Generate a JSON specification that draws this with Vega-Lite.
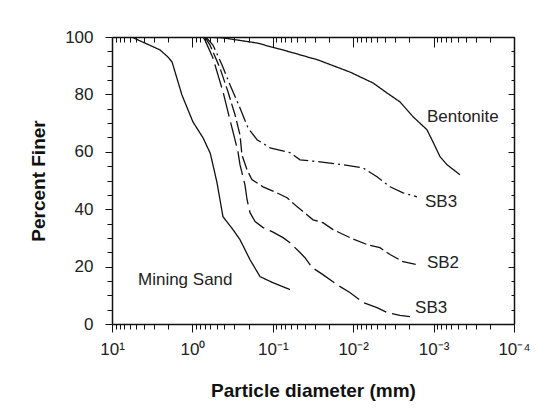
{
  "$schema": "https://vega.github.io/schema/vega-lite/v6.json",
  "width": 402,
  "height": 287,
  "autosize": "none",
  "padding": {"left": 112, "top": 37, "right": 26, "bottom": 90},
  "background": "white",
  "config": {
    "view": {"stroke": null},
    "font": "Liberation Sans",
    "axis": {
      "domainColor": "#111",
      "domainWidth": 1.5,
      "tickColor": "#111",
      "tickWidth": 1,
      "grid": false,
      "labelFont": "Liberation Sans",
      "labelFontSize": 17,
      "labelColor": "#222",
      "titleFont": "Liberation Sans",
      "titleFontWeight": "bold",
      "titleFontSize": 19,
      "titleColor": "#111",
      "labelOverlap": false,
      "labelBound": false,
      "labelFlush": false
    }
  },
  "datasets": {
    "curves": [
      {"series": "Mining Sand", "d": 5.5, "pct": 99.8},
      {"series": "Mining Sand", "d": 2.53, "pct": 95.5},
      {"series": "Mining Sand", "d": 2.01, "pct": 93},
      {"series": "Mining Sand", "d": 1.79, "pct": 91.3},
      {"series": "Mining Sand", "d": 1.35, "pct": 79.8},
      {"series": "Mining Sand", "d": 0.984, "pct": 70.4},
      {"series": "Mining Sand", "d": 0.738, "pct": 64.9},
      {"series": "Mining Sand", "d": 0.6, "pct": 59.5},
      {"series": "Mining Sand", "d": 0.53, "pct": 53},
      {"series": "Mining Sand", "d": 0.494, "pct": 49.2},
      {"series": "Mining Sand", "d": 0.417, "pct": 37.4},
      {"series": "Mining Sand", "d": 0.313, "pct": 32.9},
      {"series": "Mining Sand", "d": 0.256, "pct": 29.4},
      {"series": "Mining Sand", "d": 0.192, "pct": 22.4},
      {"series": "Mining Sand", "d": 0.144, "pct": 16.5},
      {"series": "Mining Sand", "d": 0.1, "pct": 14.4},
      {"series": "Mining Sand", "d": 0.0611, "pct": 12},

      {"series": "Bentonite", "d": 0.697, "pct": 100},
      {"series": "Bentonite", "d": 0.416, "pct": 99.7},
      {"series": "Bentonite", "d": 0.157, "pct": 97.9},
      {"series": "Bentonite", "d": 0.0611, "pct": 94.8},
      {"series": "Bentonite", "d": 0.0274, "pct": 92},
      {"series": "Bentonite", "d": 0.011, "pct": 87.8},
      {"series": "Bentonite", "d": 0.00568, "pct": 84},
      {"series": "Bentonite", "d": 0.0038, "pct": 80.5},
      {"series": "Bentonite", "d": 0.00262, "pct": 77.4},
      {"series": "Bentonite", "d": 0.0018, "pct": 72.2},
      {"series": "Bentonite", "d": 0.00121, "pct": 67.7},
      {"series": "Bentonite", "d": 0.00102, "pct": 63.5},
      {"series": "Bentonite", "d": 0.000832, "pct": 58.3},
      {"series": "Bentonite", "d": 0.000681, "pct": 55.5},
      {"series": "Bentonite", "d": 0.00047, "pct": 52},

      {"series": "SB3 upper", "d": 0.68, "pct": 100},
      {"series": "SB3 upper", "d": 0.555, "pct": 97.2},
      {"series": "SB3 upper", "d": 0.429, "pct": 90.3},
      {"series": "SB3 upper", "d": 0.34, "pct": 83.3},
      {"series": "SB3 upper", "d": 0.256, "pct": 75.3},
      {"series": "SB3 upper", "d": 0.203, "pct": 68.3},
      {"series": "SB3 upper", "d": 0.157, "pct": 64.2},
      {"series": "SB3 upper", "d": 0.108, "pct": 61.4},
      {"series": "SB3 upper", "d": 0.0611, "pct": 59.7},
      {"series": "SB3 upper", "d": 0.0459, "pct": 57.2},
      {"series": "SB3 upper", "d": 0.0259, "pct": 56.5},
      {"series": "SB3 upper", "d": 0.0134, "pct": 55.5},
      {"series": "SB3 upper", "d": 0.00755, "pct": 54.4},
      {"series": "SB3 upper", "d": 0.00506, "pct": 51.3},
      {"series": "SB3 upper", "d": 0.00348, "pct": 47.8},
      {"series": "SB3 upper", "d": 0.0024, "pct": 45.7},
      {"series": "SB3 upper", "d": 0.00161, "pct": 44.3},

      {"series": "SB2", "d": 0.7, "pct": 100},
      {"series": "SB2", "d": 0.604, "pct": 97.2},
      {"series": "SB2", "d": 0.454, "pct": 89.2},
      {"series": "SB2", "d": 0.361, "pct": 80.9},
      {"series": "SB2", "d": 0.295, "pct": 72.9},
      {"series": "SB2", "d": 0.256, "pct": 65.9},
      {"series": "SB2", "d": 0.242, "pct": 58.9},
      {"series": "SB2", "d": 0.209, "pct": 53.7},
      {"series": "SB2", "d": 0.182, "pct": 50.3},
      {"series": "SB2", "d": 0.132, "pct": 47.8},
      {"series": "SB2", "d": 0.0887, "pct": 45.7},
      {"series": "SB2", "d": 0.0665, "pct": 44},
      {"series": "SB2", "d": 0.0501, "pct": 40.9},
      {"series": "SB2", "d": 0.0376, "pct": 38.1},
      {"series": "SB2", "d": 0.0316, "pct": 36.3},
      {"series": "SB2", "d": 0.0238, "pct": 35.3},
      {"series": "SB2", "d": 0.0178, "pct": 32.9},
      {"series": "SB2", "d": 0.011, "pct": 30.1},
      {"series": "SB2", "d": 0.00673, "pct": 27.7},
      {"series": "SB2", "d": 0.00465, "pct": 26.6},
      {"series": "SB2", "d": 0.00348, "pct": 24.2},
      {"series": "SB2", "d": 0.0024, "pct": 21.7},
      {"series": "SB2", "d": 0.00161, "pct": 20.7},

      {"series": "SB3 lower", "d": 0.738, "pct": 100},
      {"series": "SB3 lower", "d": 0.697, "pct": 98.9},
      {"series": "SB3 lower", "d": 0.555, "pct": 92.7},
      {"series": "SB3 lower", "d": 0.481, "pct": 86.8},
      {"series": "SB3 lower", "d": 0.416, "pct": 80.9},
      {"series": "SB3 lower", "d": 0.361, "pct": 73.9},
      {"series": "SB3 lower", "d": 0.313, "pct": 67},
      {"series": "SB3 lower", "d": 0.271, "pct": 60},
      {"series": "SB3 lower", "d": 0.256, "pct": 55.5},
      {"series": "SB3 lower", "d": 0.222, "pct": 48.5},
      {"series": "SB3 lower", "d": 0.209, "pct": 43.3},
      {"series": "SB3 lower", "d": 0.192, "pct": 38.8},
      {"series": "SB3 lower", "d": 0.166, "pct": 35.7},
      {"series": "SB3 lower", "d": 0.132, "pct": 33.6},
      {"series": "SB3 lower", "d": 0.102, "pct": 32.2},
      {"series": "SB3 lower", "d": 0.0746, "pct": 30.1},
      {"series": "SB3 lower", "d": 0.0611, "pct": 28.3},
      {"series": "SB3 lower", "d": 0.0459, "pct": 24.9},
      {"series": "SB3 lower", "d": 0.0398, "pct": 23.1},
      {"series": "SB3 lower", "d": 0.0325, "pct": 19.7},
      {"series": "SB3 lower", "d": 0.0238, "pct": 17.2},
      {"series": "SB3 lower", "d": 0.0159, "pct": 13.7},
      {"series": "SB3 lower", "d": 0.011, "pct": 11},
      {"series": "SB3 lower", "d": 0.00755, "pct": 7.5},
      {"series": "SB3 lower", "d": 0.00506, "pct": 5.7},
      {"series": "SB3 lower", "d": 0.0038, "pct": 4},
      {"series": "SB3 lower", "d": 0.00262, "pct": 3},
      {"series": "SB3 lower", "d": 0.00197, "pct": 2.6}
    ],
    "labels": [
      {"label": "Bentonite", "d": 0.00121, "pct": 72.2},
      {"label": "SB3", "d": 0.00128, "pct": 42.6},
      {"label": "SB2", "d": 0.00121, "pct": 21.4},
      {"label": "SB3", "d": 0.0017, "pct": 5.7},
      {"label": "Mining Sand", "d": 4.75, "pct": 15.5}
    ]
  },
  "layer": [
    {
      "data": {"name": "curves"},
      "mark": {"type": "line", "strokeWidth": 1.3, "color": "#111", "clip": true},
      "encoding": {
        "x": {
          "field": "d", "type": "quantitative",
          "scale": {"type": "log", "domain": [0.0001, 10], "reverse": true, "nice": false},
          "axis": {
            "orient": "bottom",
            "title": "Particle diameter (mm)",
            "titlePadding": 24,
            "labelPadding": 9,
            "values": [10, 9, 8, 7, 6, 5, 4, 3, 2, 1, 0.9, 0.8, 0.7, 0.6, 0.5, 0.4, 0.3, 0.2, 0.1, 0.09, 0.08, 0.07, 0.06, 0.05, 0.04, 0.03, 0.02, 0.01, 0.009, 0.008, 0.007, 0.006, 0.005, 0.004, 0.003, 0.002, 0.001, 0.0009, 0.0008, 0.0007, 0.0006, 0.0005, 0.0004, 0.0003, 0.0002, 0.0001],
            "labelExpr": "abs(log(datum.value)/LN10 - round(log(datum.value)/LN10)) < 0.01 ? ['10¹','10⁰','10⁻¹','10⁻²','10⁻³','10⁻⁴'][1 - round(log(datum.value)/LN10)] : ''",
            "tickSize": {"condition": {"test": "abs(log(datum.value)/LN10 - round(log(datum.value)/LN10)) < 0.01", "value": 8}, "value": 5}
          }
        },
        "y": {
          "field": "pct", "type": "quantitative",
          "scale": {"domain": [0, 100], "nice": false},
          "axis": {
            "orient": "left",
            "title": "Percent Finer",
            "titlePadding": 16,
            "labelPadding": 12,
            "values": [0, 5, 10, 15, 20, 25, 30, 35, 40, 45, 50, 55, 60, 65, 70, 75, 80, 85, 90, 95, 100],
            "labelExpr": "datum.value % 20 === 0 ? datum.label : ''",
            "tickSize": {"condition": {"test": "datum.value % 20 === 0", "value": 7}, "value": 5}
          }
        },
        "detail": {"field": "series"},
        "order": {"field": "d", "sort": "descending"},
        "strokeDash": {
          "field": "series", "type": "nominal",
          "scale": {
            "domain": ["Mining Sand", "Bentonite", "SB3 upper", "SB2", "SB3 lower"],
            "range": [[1, 0], [1, 0], [16, 4, 2, 4], [14, 4], [24, 6]]
          },
          "legend": null
        }
      }
    },
    {
      "data": {"name": "labels"},
      "mark": {"type": "text", "align": "left", "baseline": "middle", "font": "Liberation Sans", "fontSize": 17, "color": "#222"},
      "encoding": {
        "x": {
          "field": "d", "type": "quantitative",
          "scale": {"type": "log", "domain": [0.0001, 10], "reverse": true, "nice": false},
          "axis": {
            "orient": "top",
            "title": null,
            "labels": false,
            "values": [10, 9, 8, 7, 6, 5, 4, 3, 2, 1, 0.9, 0.8, 0.7, 0.6, 0.5, 0.4, 0.3, 0.2, 0.1, 0.09, 0.08, 0.07, 0.06, 0.05, 0.04, 0.03, 0.02, 0.01, 0.009, 0.008, 0.007, 0.006, 0.005, 0.004, 0.003, 0.002, 0.001, 0.0009, 0.0008, 0.0007, 0.0006, 0.0005, 0.0004, 0.0003, 0.0002, 0.0001],
            "tickSize": {"condition": {"test": "abs(log(datum.value)/LN10 - round(log(datum.value)/LN10)) < 0.01", "value": -10}, "value": -5}
          }
        },
        "y": {
          "field": "pct", "type": "quantitative",
          "scale": {"domain": [0, 100], "nice": false},
          "axis": {
            "orient": "right",
            "title": null,
            "labels": false,
            "values": [0, 5, 10, 15, 20, 25, 30, 35, 40, 45, 50, 55, 60, 65, 70, 75, 80, 85, 90, 95, 100],
            "tickSize": {"condition": {"test": "datum.value % 20 === 0", "value": -6}, "value": -3}
          }
        },
        "text": {"field": "label"}
      }
    }
  ],
  "resolve": {"axis": {"x": "independent", "y": "independent"}}
}
